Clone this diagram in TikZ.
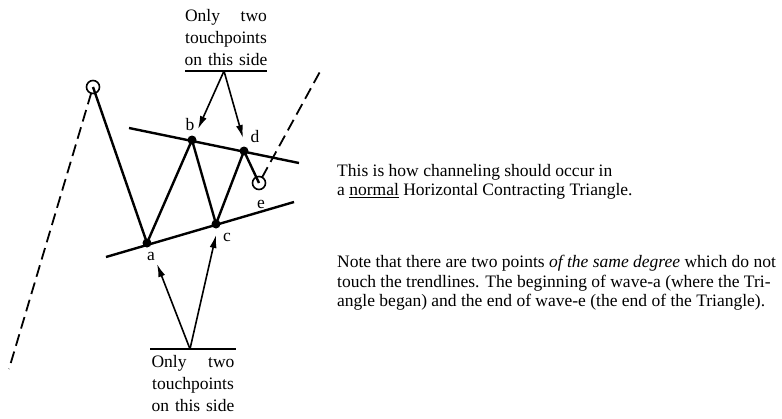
\documentclass[tikz,border=0pt]{standalone}
\usepackage{fontspec}
\setmainfont{Liberation Serif}
\usetikzlibrary{positioning, arrows.meta}

\begin{document}
\begin{tikzpicture}[x=1pt, y=-1pt,
    wave/.style={line width=2.4pt, line join=round},
    dashwave/.style={line width=1.8pt, dash pattern=on 12pt off 6pt},
    dot/.style={circle, fill, inner sep=0pt, minimum size=9pt},
    ring/.style={circle, draw, line width=1.6pt, inner sep=0pt, minimum size=13pt},
    pointer/.style={-{Latex[length=13pt, width=7pt]}, line width=1.6pt},
    txt/.style={font=\fontsize{17.5}{22}\selectfont, inner sep=0pt},
    note/.style={font=\fontsize{17.5}{19.5}\selectfont, inner sep=0pt, align=left, anchor=north west}]
    \useasboundingbox (0,0) rectangle (782,418);

    % wave points
    \node[ring] (w0) at (93,87) {};
    \node[dot] (a) at (147,243) {};
    \node[dot] (b) at (192,140) {};
    \node[dot] (c) at (216,224) {};
    \node[dot] (d) at (244,151) {};
    \node[ring] (e) at (259,183) {};
    \coordinate (lowend) at (9,369);
    \coordinate (highend) at (322,68);

    % trendlines
    \coordinate (up1) at (129,128);
    \coordinate (up2) at (299,163);
    \coordinate (lo1) at (106,257);
    \coordinate (lo2) at (294,202);
    \draw[wave] (up1) -- (up2);
    \draw[wave] (lo1) -- (lo2);

    \draw[wave] (w0.center) -- (a.center) -- (b.center) -- (c.center) -- (d.center) -- (e.center);
    \draw[dashwave, shorten <=6pt] (w0.center) -- (lowend);
    \draw[dashwave, shorten <=6pt] (e.center) -- (highend);

    % point labels
    \node[txt] (la) at (151,256) {a};
    \node[txt] (lb) at (190,125) {b};
    \node[txt] (lc) at (227,237) {c};
    \node[txt] (ld) at (255,137) {d};
    \node[txt] (le) at (261,204) {e};

    % top remark
    \node[txt, text width=90pt, align=center, anchor=north] (toptext) at (226,9)
        {\makebox[82pt]{Only\hfill two}\\touchpoints\\on this side};
    \coordinate (topbarl) at (185,71);
    \coordinate (topbarr) at (267,71);
    \coordinate (topapex) at (224,71);
    \coordinate (tob) at (198,129);
    \coordinate (tod) at (243,138);
    \draw[line width=1.6pt] (topbarl) -- (topbarr);
    \path[pointer]
        (topapex) edge (tob)
        (topapex) edge (tod);

    % bottom remark
    \node[txt, text width=90pt, align=center, anchor=north] (bottext) at (193,355)
        {\makebox[83pt]{Only\hfill two}\\touchpoints\\on this side};
    \coordinate (botbarl) at (150,349);
    \coordinate (botbarr) at (236,349);
    \coordinate (botapex) at (190,349);
    \coordinate (toa) at (157,264);
    \coordinate (toc) at (216,235);
    \draw[line width=1.6pt] (botbarl) -- (botbarr);
    \path[pointer]
        (botapex) edge (toa)
        (botapex) edge (toc);

    % notes
    \node[note] (note1) at (337,164)
        {This is how channeling should occur in\\a \underline{normal} Horizontal Contracting Triangle.};
    \node[note] (note2) at (337,255)
        {Note that there are two points \textit{of the same degree} which do not\\touch the trendlines. The beginning of wave-a (where the Tri-\\angle began) and the end of wave-e (the end of the Triangle).};
\end{tikzpicture}
\end{document}
